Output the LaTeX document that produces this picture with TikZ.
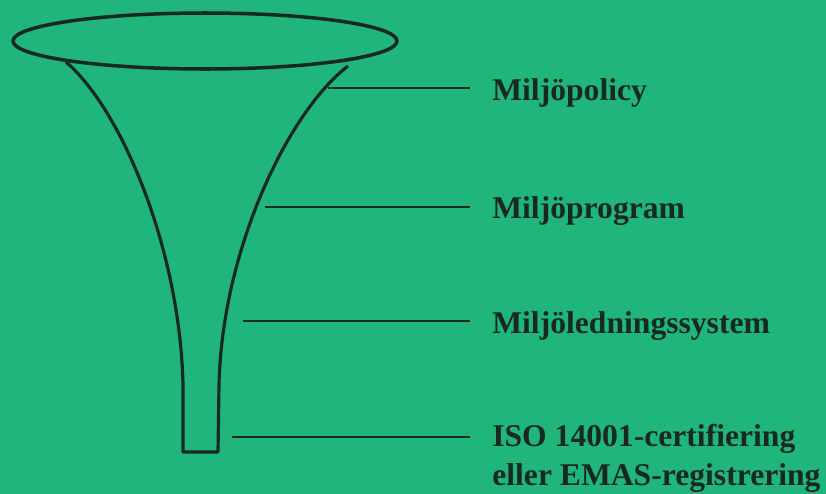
\documentclass[tikz,border=0pt]{standalone}
\usepackage{fontspec}
\setmainfont{Liberation Serif}
\usepackage{xcolor}
\definecolor{bggreen}{RGB}{32,181,123}
\definecolor{ink}{RGB}{24,40,34}
\usetikzlibrary{positioning}

\begin{document}
\begin{tikzpicture}[x=0.02cm,y=-0.02cm,
    funnel/.style={draw=ink,line width=1.8pt,line join=round},
    lead/.style={draw=ink,line width=1.1pt},
    stage/.style={anchor=west,inner sep=0pt,text=ink,font=\fontsize{18}{22}\selectfont\bfseries,align=left}]
      % background
      \fill[bggreen] (0,0) rectangle (826,494);
      \useasboundingbox (0,0) rectangle (826,494);

      % funnel
      \draw[funnel,line width=2pt] (205,41) ellipse [x radius=192,y radius=28];
      \draw[funnel] (66,62) .. controls (122,110) and (180,250) .. (183,385)
        -- (183,452) -- (218,452) -- (219,385)
        .. controls (222,250) and (288,112) .. (348,66);

      % points on the funnel
      \coordinate (f1) at (328,88);
      \coordinate (f2) at (265,207);
      \coordinate (f3) at (243,321);
      \coordinate (f4) at (232,437);

      % labels
      \node[stage] (policy) at (492,93) {Miljöpolicy};
      \node[stage] (program) at (492,211) {Miljöprogram};
      \node[stage] (system) at (492,326) {Miljöledningssystem};
      \node[stage,anchor=north west] (iso) at (492,424) {ISO 14001-certifiering\\eller EMAS-registrering};

      \coordinate (e1) at (470,88);
      \coordinate (e2) at (470,207);
      \coordinate (e3) at (470,321);
      \coordinate (e4) at (470,437);

      \draw[lead] (f1) -- (e1);
      \draw[lead] (f2) -- (e2);
      \draw[lead] (f3) -- (e3);
      \draw[lead] (f4) -- (e4);
\end{tikzpicture}
\end{document}
